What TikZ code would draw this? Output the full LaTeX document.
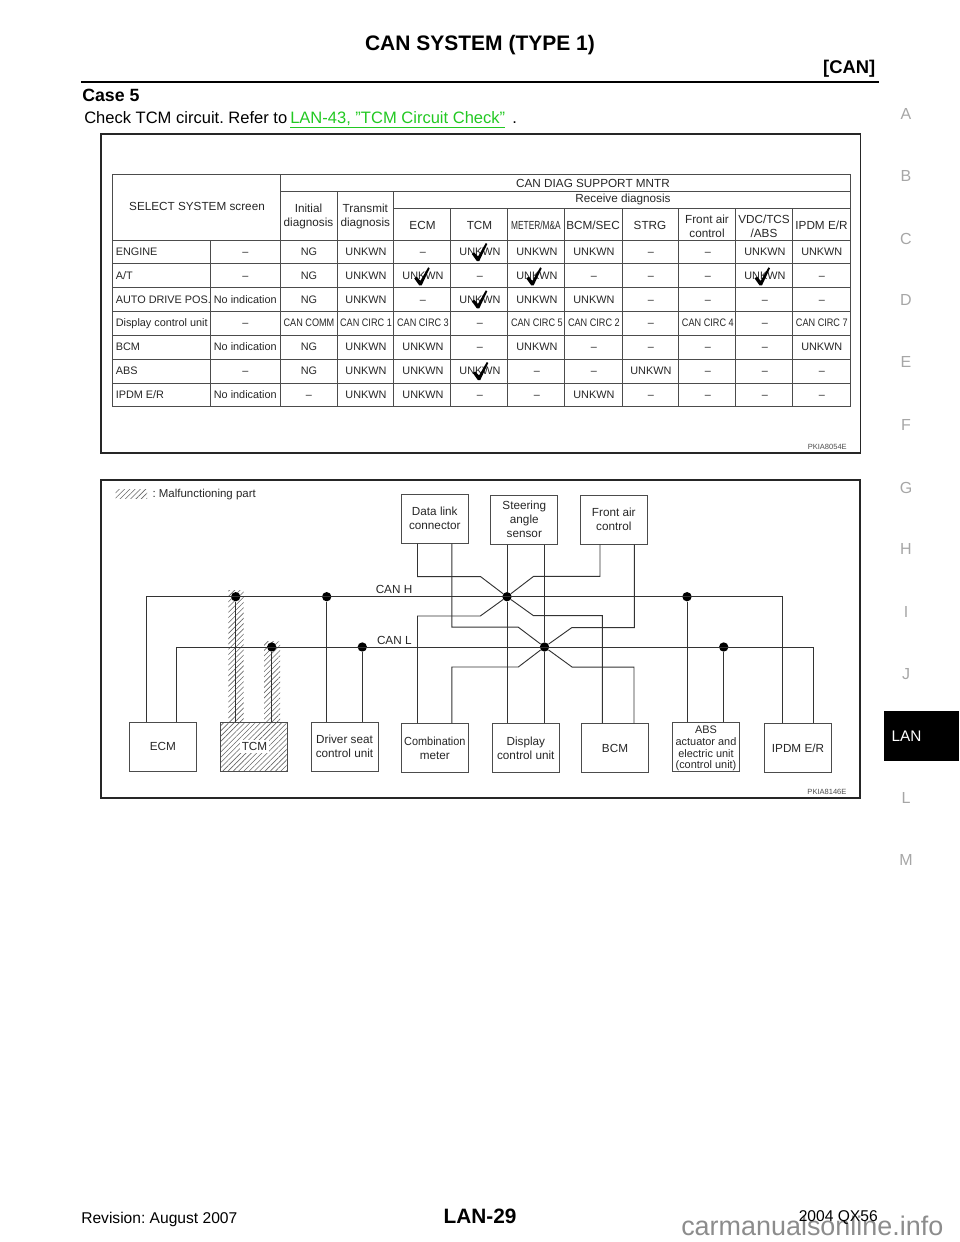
\documentclass[tikz,border=0pt]{standalone}
\usepackage{fontspec}
\setmainfont{Liberation Sans}
\usepackage{xcolor}
\usetikzlibrary{patterns.meta, positioning}
\definecolor{linkgreen}{RGB}{34,200,34}
\newcommand{\nar}[2][.84]{\scalebox{#1}[1]{#2}}
\newcommand{\dsh}{\textendash}
\frenchspacing
\tikzset{
    panel/.style={draw=black!85, line width=1.1pt},
    grid line/.style={draw=black!70, line width=.6pt},
    wire/.style={draw=black!80, line width=.7pt},
    cell/.style={inner sep=0pt, text=black!85, font=\fontsize{8.15pt}{10.5pt}\selectfont, text height=5.9pt, text depth=0pt},
    head/.style={inner sep=0pt, text=black!85, font=\fontsize{8.8pt}{10.5pt}\selectfont, align=center},
    unitbox/.style={draw=black!70, line width=.7pt, minimum width=50.25pt, minimum height=36.5pt, inner sep=0pt, align=center, text=black!85, font=\fontsize{8.8pt}{10.5pt}\selectfont},
    junction/.style={circle, fill=black, inner sep=0pt, minimum size=7pt},
    hatched/.style={pattern={Lines[angle=45, distance=2.8pt, line width=.45pt]}, pattern color=black!60},
    sideletter/.style={inner sep=0pt, text=black!35, font=\fontsize{12pt}{14pt}\selectfont},
    tickmark/.pic={\fill[black] (-6.5,-7) -- (-4,-8.5) -- (-.3,-4.5) -- (7.5,-18) -- (9,-17) -- (1,0) -- (-1.5,0) -- cycle;},
}
\begin{document}
\begin{tikzpicture}[x=.75pt, y=-.75pt]
    \useasboundingbox (0,0) rectangle (960,1242);

    % page head
    \node[inner sep=0pt, font=\bfseries\fontsize{15.75pt}{18pt}\selectfont] (title) at (480,45.5) {CAN SYSTEM (TYPE 1)};
    \node[inner sep=0pt, anchor=east, font=\bfseries\fontsize{13.8pt}{16pt}\selectfont] (section) at (875.5,68.5) {[CAN]};
    \draw[black, line width=1.6pt] (81,82) -- (879,82);
    \node[inner sep=0pt, anchor=west, font=\bfseries\fontsize{13.3pt}{16pt}\selectfont] (case) at (82,95) {Case 5};
    \node[inner sep=0pt, anchor=base west, font=\fontsize{12.4pt}{15pt}\selectfont] (check) at (84,123) {Check TCM circuit. Refer to};
    \node[inner sep=0pt, anchor=base west, text=linkgreen, font=\fontsize{12.4pt}{15pt}\selectfont] (link) at (290,123) {\underline{LAN-43, \symbol{34}TCM Circuit Check\symbol{34}}};
    \node[inner sep=0pt, anchor=base west, font=\fontsize{12.4pt}{15pt}\selectfont] (stop) at (512,123) {.};

    % side tabs
    \foreach \tabname/\taby in {A/114, B/176, C/238.5, D/300, E/362, F/425, G/488, H/549, I/612, J/674, L/798, M/860}
        \node[sideletter] (tab\tabname) at (906,\taby) {\tabname};
    \fill[black] (884,711) rectangle (958.5,760.5);
    \node[inner sep=0pt, text=white, font=\fontsize{11.5pt}{14pt}\selectfont] (tabLAN) at (906.5,736.5) {LAN};

    % table panel
    \draw[panel] (101,134) rectangle (860.5,453);
    \draw[grid line] (112.5,174) rectangle (850.3,406);
    \draw[grid line] (280.5,191.3) -- (850.3,191.3);
    \draw[grid line] (393.7,208.3) -- (850.3,208.3);
    \draw[grid line] (112.5,240) -- (850.3,240);
    \foreach \rowy in {263.7,287.7,311.3,335.3,359.3,383}
        \draw[grid line] (112.5,\rowy) -- (850.3,\rowy);
    \draw[grid line] (210,240) -- (210,406);
    \draw[grid line] (280.5,174) -- (280.5,406);
    \draw[grid line] (337,191.3) -- (337,406);
    \draw[grid line] (393.7,191.3) -- (393.7,406);
    \foreach \colx in {450.7,507.7,564.7,622,678.7,735.7,792.7}
        \draw[grid line] (\colx,208.3) -- (\colx,406);

    \node[head] (selscreen) at (197,206.5) {SELECT SYSTEM screen};
    \node[head] (monitor) at (593,183) {CAN DIAG SUPPORT MNTR};
    \node[head] (receive) at (623,199.5) {Receive diagnosis};
    \node[head] (initial) at (308.5,216.5) {Initial\\diagnosis};
    \node[head] (transmit) at (365.3,216.5) {Transmit\\diagnosis};
    \node[head] (hECM) at (422.5,225) {ECM};
    \node[head] (hTCM) at (479.5,225) {TCM};
    \node[head] (hMETER) at (536,225) {\nar[.71]{METER/M\&A}};
    \node[head] (hBCM) at (593,225) {BCM/SEC};
    \node[head] (hSTRG) at (650,225) {STRG};
    \node[head] (hFRONT) at (707,226) {Front air\\control};
    \node[head] (hVDC) at (764,226) {VDC/TCS\\/ABS};
    \node[head] (hIPDM) at (821.5,225) {IPDM E/R};

    \foreach \rowname [count=\rr] in {ENGINE,A/T,AUTO DRIVE POS.,Display control unit,BCM,ABS,IPDM E/R}
        \node[cell, anchor=west] (name-\rr) at (115.5,240+\rr*23.71-11.86) {\rowname};
    \foreach \rowflag [count=\rr] in {\dsh,\dsh,No indication,\dsh,No indication,\dsh,No indication}
        \node[cell] (flag-\rr) at (245.3,240+\rr*23.71-11.86) {\rowflag};
    \foreach \rowcells [count=\rr] in {
        {NG,UNKWN,\dsh,UNKWN,UNKWN,UNKWN,\dsh,\dsh,UNKWN,UNKWN},
        {NG,UNKWN,UNKWN,\dsh,UNKWN,\dsh,\dsh,\dsh,UNKWN,\dsh},
        {NG,UNKWN,\dsh,UNKWN,UNKWN,UNKWN,\dsh,\dsh,\dsh,\dsh},
        {\nar{CAN COMM},\nar{CAN CIRC 1},\nar{CAN CIRC 3},\dsh,\nar{CAN CIRC 5},\nar{CAN CIRC 2},\dsh,\nar{CAN CIRC 4},\dsh,\nar{CAN CIRC 7}},
        {NG,UNKWN,UNKWN,\dsh,UNKWN,\dsh,\dsh,\dsh,\dsh,UNKWN},
        {NG,UNKWN,UNKWN,UNKWN,\dsh,\dsh,UNKWN,\dsh,\dsh,\dsh},
        {\dsh,UNKWN,UNKWN,\dsh,\dsh,UNKWN,\dsh,\dsh,\dsh,\dsh}}
        \foreach \celltxt [count=\cc] in \rowcells
            \node[cell] (cell-\rr-\cc) at (280.5+\cc*56.98-28.49,240+\rr*23.71-11.86) {\celltxt};

    \pic at (478.3,261) {tickmark};
    \pic at (420.7,285.3) {tickmark};
    \pic at (532.7,285.3) {tickmark};
    \pic at (761,285.3) {tickmark};
    \pic at (478.3,308.3) {tickmark};
    \pic at (479.3,380) {tickmark};

    \node[inner sep=0pt, anchor=east, text=black!70, font=\fontsize{5.65pt}{7pt}\selectfont] (codeA) at (847,447) {PKIA8054E};

    % circuit panel
    \draw[panel] (101,480) rectangle (860,798);
    \path[hatched] (115.7,489.3) rectangle (147,498.7);
    \node[inner sep=0pt, anchor=west, text=black!85, font=\fontsize{8.6pt}{10pt}\selectfont] (legend) at (152.3,494.5) {: Malfunctioning part};

    \path[hatched] (228.3,590.7) rectangle (243.7,722.3);
    \path[hatched] (264,641) rectangle (280,722.3);

    \node[unitbox] (dlc) at (434.8,518.7) {Data link\\connector};
    \node[unitbox] (sas) at (524.3,519.7) {Steering\\angle\\sensor};
    \node[unitbox] (fac) at (613.8,519.7) {Front air\\control};
    \node[unitbox] (ecm) at (162.8,746.7) {ECM};
    \node[unitbox, hatched] (tcm) at (253.8,746.7) {};
    \node[fill=white, inner sep=1.5pt, text=black!85, font=\fontsize{8.8pt}{10.5pt}\selectfont] (tcmtext) at (254.5,746.5) {TCM};
    \node[unitbox] (dsc) at (344.5,746.7) {Driver seat\\control unit};
    \node[unitbox] (cmb) at (434.8,748) {\nar[.93]{Combination}\\meter};
    \node[unitbox] (dsp) at (525.8,748) {Display\\control unit};
    \node[unitbox] (bcm) at (615,748) {BCM};
    \node[unitbox, font=\fontsize{8.2pt}{8.8pt}\selectfont] (abs) at (706,746.8) {\rule{0pt}{8.4pt}ABS\\actuator and\\electric unit\\(control unit)};
    \node[unitbox] (ipdm) at (798,748) {IPDM E/R};

    \node[junction] (tcmH) at (235.7,596.7) {};
    \node[junction] (dscH) at (326.7,596.7) {};
    \node[junction] (hubH) at (507,596.7) {};
    \node[junction] (absH) at (687,596.7) {};
    \node[junction] (tcmL) at (271.7,647) {};
    \node[junction] (dscL) at (362.3,647) {};
    \node[junction] (hubL) at (544.5,647) {};
    \node[junction] (absL) at (723.7,647) {};

    \coordinate (busHa) at (146,596.7);
    \coordinate (busHb) at (782.3,596.7);
    \coordinate (busLa) at (176.3,647);
    \coordinate (busLb) at (813.7,647);

    % bus lines
    \draw[wire] (ecm.north -| busHa) -- (busHa) -- (busHb) -- (ipdm.north -| busHb);
    \draw[wire] (ecm.north -| busLa) -- (busLa) -- (busLb) -- (ipdm.north -| busLb);
    \foreach \dotname/\unitname in {tcmH/tcm,tcmL/tcm,dscH/dsc,dscL/dsc,absH/abs,absL/abs}
        \draw[wire] (\dotname) -- (\dotname |- \unitname.north);

    % star of CAN H
    \coordinate (dlcA) at (417.5,576.7);
    \coordinate (kneeA) at (480.7,576.7);
    \coordinate (kneeB) at (533.5,615.7);
    \coordinate (bcmA) at (602.3,615.7);
    \coordinate (cmbA) at (417.5,616);
    \coordinate (kneeC) at (480.3,616);
    \coordinate (kneeD) at (533.5,576.4);
    \coordinate (facA) at (600,576.4);
    \draw[wire] (dlc.south -| dlcA) -- (dlcA) -- (kneeA) -- (hubH) -- (kneeB) -- (bcmA) -- (bcm.north -| bcmA);
    \draw[wire] (cmb.north -| cmbA) -- (cmbA) -- (kneeC) -- (hubH) -- (kneeD) -- (facA) -- (fac.south -| facA);
    \draw[wire] (sas.south -| hubH) -- (hubH) -- (dsp.north -| hubH);

    % star of CAN L
    \coordinate (dlcB) at (451.8,627.2);
    \coordinate (kneeE) at (518.3,627.2);
    \coordinate (kneeF) at (572.3,667.2);
    \coordinate (bcmB) at (634,667.2);
    \coordinate (cmbB) at (451.8,667);
    \coordinate (kneeG) at (518.3,667);
    \coordinate (kneeH) at (571.8,627.6);
    \coordinate (facB) at (634.3,627.6);
    \draw[wire] (dlc.south -| dlcB) -- (dlcB) -- (kneeE) -- (hubL) -- (kneeF) -- (bcmB) -- (bcm.north -| bcmB);
    \draw[wire] (cmb.north -| cmbB) -- (cmbB) -- (kneeG) -- (hubL) -- (kneeH) -- (facB) -- (fac.south -| facB);
    \draw[wire] (sas.south -| hubL) -- (hubL) -- (dsp.north -| hubL);

    \node[inner sep=0pt, text=black!85, font=\fontsize{8.8pt}{10pt}\selectfont] (canH) at (394,589) {CAN H};
    \node[inner sep=0pt, text=black!85, font=\fontsize{8.8pt}{10pt}\selectfont] (canL) at (394.3,640.3) {CAN L};
    \node[inner sep=0pt, anchor=east, text=black!70, font=\fontsize{5.65pt}{7pt}\selectfont] (codeB) at (846.7,791.7) {PKIA8146E};

    % foot of the page
    \node[inner sep=0pt, anchor=base west, text=black!45, font=\fontsize{20.2pt}{24pt}\selectfont] (mark) at (681,1235) {carmanualsonline.info};
    \node[inner sep=0pt, anchor=west, font=\fontsize{11.7pt}{14pt}\selectfont] (revision) at (81,1219) {Revision: August 2007};
    \node[inner sep=0pt, font=\bfseries\fontsize{15.6pt}{18pt}\selectfont] (pageno) at (480,1216) {LAN-29};
    \node[inner sep=0pt, anchor=east, font=\fontsize{11.7pt}{14pt}\selectfont] (model) at (878,1218) {2004 QX56};
\end{tikzpicture}
\end{document}
